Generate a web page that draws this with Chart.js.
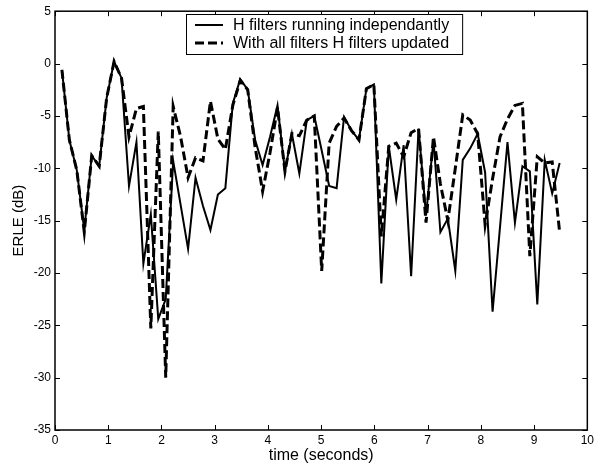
<!DOCTYPE html>
<html>
<head>
<meta charset="utf-8">
<title>ERLE</title>
<script src="https://cdn.jsdelivr.net/npm/chart.js"></script>
<style>
  html, body { margin: 0; padding: 0; background: #fff; }
  canvas { display: block; }
</style>
</head>
<body>
<canvas id="erle" width="597" height="465"></canvas>
<script>
// time axis (seconds), one value per frame
const times = [
  0.13, 0.27, 0.41, 0.55, 0.69, 0.83, 0.97, 1.11, 1.25, 1.39,
  1.53, 1.66, 1.80, 1.94, 2.08, 2.22, 2.36, 2.50, 2.64, 2.78,
  2.92, 3.06, 3.20, 3.34, 3.48, 3.62, 3.76, 3.90, 4.04, 4.18,
  4.32, 4.45, 4.59, 4.73, 4.87, 5.01, 5.15, 5.29, 5.43, 5.57,
  5.71, 5.85, 5.99, 6.13, 6.27, 6.41, 6.55, 6.69, 6.83, 6.97,
  7.11, 7.24, 7.38, 7.52, 7.66, 7.80, 7.94, 8.08, 8.22, 8.36,
  8.50, 8.64, 8.78, 8.92, 9.06, 9.20, 9.34, 9.48
];

// ERLE (dB), filters running independently
const independent = [
  -0.6, -7.3, -10.2, -15.9, -8.8, -9.8, -3.3, 0.2, -1.4, -11.7,
  -7.5, -19.1, -14.4, -24.4, -22.5, -9.3, -13.5, -17.7, -10.9, -13.6,
  -15.9, -12.5, -11.9, -3.8, -1.5, -2.5, -7.3, -9.7, -7.0, -4.0,
  -10.3, -6.7, -10.5, -5.4, -5.0, -8.3, -11.7, -11.9, -5.1, -6.4,
  -7.3, -2.4, -2.0, -21.0, -7.9, -13.0, -7.8, -20.3, -6.2, -14.5,
  -7.3, -16.1, -14.8, -19.8, -9.2, -8.1, -6.7, -10.4, -23.7, -15.6,
  -7.5, -15.2, -9.8, -10.3, -23.0, -9.2, -12.4, -9.5
];

// ERLE (dB), all filters updated
const allUpdated = [
  -0.6, -7.3, -10.2, -16.1, -8.8, -9.8, -3.3, 0.2, -1.4, -7.0,
  -4.3, -4.1, -25.3, -6.5, -30.0, -4.1, -7.0, -10.9, -9.0, -9.3,
  -3.6, -7.2, -8.2, -4.0, -1.6, -2.5, -8.0, -12.2, -8.5, -4.2,
  -10.3, -6.7, -6.9, -5.4, -5.0, -19.8, -7.6, -6.0, -5.2, -6.4,
  -7.3, -2.4, -2.0, -16.5, -7.9, -7.6, -8.9, -6.6, -6.2, -15.2,
  -7.0, -11.5, -15.0, -10.0, -4.9, -5.4, -6.7, -15.4, -11.0, -7.0,
  -5.3, -4.0, -3.8, -18.4, -8.9, -9.5, -9.4, -16.1
];

const xTicks = [0, 1, 2, 3, 4, 5, 6, 7, 8, 9, 10];
const yTicks = [5, 0, -5, -10, -15, -20, -25, -30, -35];
const seriesNames = ['H filters running independantly', 'With all filters H filters updated'];

const FONT = 'Arial, "Liberation Sans", Helvetica, sans-serif';

function pts(vals) {
  return vals.map((v, i) => ({ x: times[i], y: v }));
}

// box round the plot, inward ticks on all four sides, and the legend
const framePlugin = {
  id: 'frame',
  afterDraw(chart) {
    const { ctx, chartArea: a, scales: { x, y } } = chart;
    ctx.save();
    ctx.strokeStyle = '#000';
    ctx.lineWidth = 1.5;
    ctx.strokeRect(a.left, a.top, a.right - a.left, a.bottom - a.top);

    ctx.lineWidth = 1;
    ctx.beginPath();
    x.ticks.forEach(t => {
      const px = Math.round(x.getPixelForValue(t.value)) + 0.5;
      ctx.moveTo(px, a.bottom); ctx.lineTo(px, a.bottom - 5);
      ctx.moveTo(px, a.top); ctx.lineTo(px, a.top + 5);
    });
    y.ticks.forEach(t => {
      const py = Math.round(y.getPixelForValue(t.value)) + 0.5;
      ctx.moveTo(a.left, py); ctx.lineTo(a.left + 5, py);
      ctx.moveTo(a.right, py); ctx.lineTo(a.right - 5, py);
    });
    ctx.stroke();

    // legend
    ctx.font = '16px ' + FONT;
    const textW = Math.max(...seriesNames.map(s => ctx.measureText(s).width));
    const bx = 186, by = 14, rowH = 18;
    const bw = 47 + textW + 13, bh = 40;
    ctx.fillStyle = '#fff';
    ctx.fillRect(bx, by, bw, bh);
    ctx.lineWidth = 1;
    ctx.strokeRect(bx + 0.5, by + 0.5, bw, bh);
    chart.data.datasets.forEach((ds, i) => {
      const ly = by + 11 + i * rowH;
      ctx.beginPath();
      ctx.setLineDash(ds.borderDash || []);
      ctx.lineWidth = ds.borderWidth;
      ctx.moveTo(bx + 9, ly);
      ctx.lineTo(bx + 37, ly);
      ctx.stroke();
      ctx.setLineDash([]);
      ctx.fillStyle = '#000';
      ctx.textBaseline = 'middle';
      ctx.textAlign = 'left';
      ctx.fillText(ds.label, bx + 47, ly + 1);
    });
    ctx.restore();
  }
};

new Chart(document.getElementById('erle'), {
  type: 'line',
  data: {
    datasets: [{
      label: seriesNames[0],
      data: pts(independent),
      borderColor: '#000',
      borderWidth: 2,
      pointRadius: 0,
      tension: 0,
      order: 1
    }, {
      label: seriesNames[1],
      data: pts(allUpdated),
      borderColor: '#000',
      borderWidth: 3,
      borderDash: [9, 4],
      pointRadius: 0,
      tension: 0,
      order: 0
    }]
  },
  options: {
    responsive: false,
    animation: false,
    events: [],
    layout: { padding: { left: 0, top: 11, right: 9, bottom: 0 } },
    plugins: {
      legend: { display: false },
      tooltip: { enabled: false }
    },
    scales: {
      x: {
        type: 'linear',
        min: 0,
        max: 10,
        afterBuildTicks: s => { s.ticks = xTicks.map(v => ({ value: v })); },
        afterFit: s => { s.height = 35; },
        grid: { display: false, drawTicks: false },
        border: { display: false },
        ticks: { color: '#000', padding: 3, maxRotation: 0, font: { family: FONT, size: 12 } },
        title: {
          display: true,
          text: 'time (seconds)',
          color: '#000',
          padding: { top: 0, bottom: 0 },
          font: { family: FONT, size: 16 }
        }
      },
      y: {
        type: 'linear',
        min: -35,
        max: 5,
        afterBuildTicks: s => { s.ticks = yTicks.map(v => ({ value: v })); },
        afterFit: s => { s.width = 55; },
        grid: { display: false, drawTicks: false },
        border: { display: false },
        ticks: { color: '#000', padding: 4, font: { family: FONT, size: 12 } },
        title: {
          display: true,
          text: 'ERLE (dB)',
          color: '#000',
          padding: { top: 10, bottom: 0 },
          font: { family: FONT, size: 15 }
        }
      }
    }
  },
  plugins: [framePlugin]
});
</script>
</body>
</html>
